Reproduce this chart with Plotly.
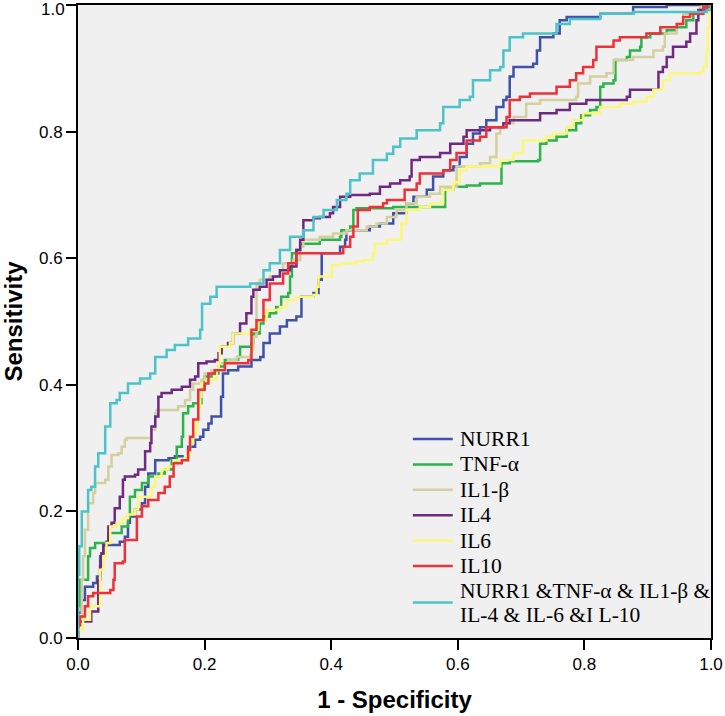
import plotly.graph_objects as go

# ---- data (1 - specificity, sensitivity) ----
nurr1_fpr = [0, 0, 0.006, 0.011, 0.024, 0.03, 0.035, 0.04, 0.056, 0.066, 0.074, 0.079, 0.082, 0.09, 0.101, 0.106, 0.111, 0.122, 0.143, 0.153, 0.174, 0.185, 0.193, 0.198, 0.206, 0.211, 0.224, 0.226, 0.229, 0.237, 0.253, 0.274, 0.288, 0.293, 0.303, 0.319, 0.33, 0.345, 0.353, 0.372, 0.38, 0.385, 0.403, 0.414, 0.422, 0.424, 0.461, 0.477, 0.498, 0.519, 0.53, 0.551, 0.561, 0.577, 0.593, 0.603, 0.614, 0.624, 0.635, 0.645, 0.661, 0.672, 0.677, 0.682, 0.688, 0.719, 0.725, 0.73, 0.751, 0.761, 0.772, 0.825, 0.877, 0.93, 1.0]
nurr1_tpr = [0, 0.04, 0.06, 0.081, 0.087, 0.097, 0.129, 0.147, 0.147, 0.152, 0.16, 0.182, 0.192, 0.203, 0.213, 0.239, 0.26, 0.281, 0.284, 0.287, 0.302, 0.313, 0.318, 0.329, 0.339, 0.35, 0.35, 0.381, 0.418, 0.423, 0.429, 0.439, 0.444, 0.466, 0.481, 0.492, 0.502, 0.508, 0.539, 0.545, 0.566, 0.608, 0.608, 0.618, 0.629, 0.644, 0.65, 0.655, 0.671, 0.687, 0.697, 0.708, 0.729, 0.739, 0.745, 0.76, 0.781, 0.797, 0.807, 0.818, 0.839, 0.85, 0.855, 0.887, 0.902, 0.907, 0.928, 0.949, 0.955, 0.976, 0.981, 0.986, 0.997, 1.0, 1.0]

tnf_fpr = [0, 0, 0.003, 0.016, 0.019, 0.027, 0.045, 0.048, 0.06, 0.069, 0.079, 0.082, 0.09, 0.101, 0.111, 0.127, 0.137, 0.148, 0.156, 0.164, 0.166, 0.174, 0.182, 0.195, 0.2, 0.211, 0.222, 0.232, 0.253, 0.256, 0.274, 0.277, 0.287, 0.293, 0.303, 0.313, 0.321, 0.332, 0.335, 0.338, 0.345, 0.351, 0.369, 0.382, 0.414, 0.416, 0.43, 0.435, 0.44, 0.482, 0.498, 0.572, 0.58, 0.593, 0.614, 0.635, 0.667, 0.669, 0.682, 0.727, 0.73, 0.74, 0.756, 0.766, 0.772, 0.787, 0.795, 0.809, 0.819, 0.825, 0.83, 0.846, 0.849, 0.867, 0.872, 0.888, 0.89, 0.904, 0.93, 0.946, 0.961, 0.972, 0.983, 1.0]
tnf_tpr = [0, 0.05, 0.092, 0.129, 0.142, 0.15, 0.15, 0.166, 0.166, 0.176, 0.192, 0.223, 0.234, 0.245, 0.255, 0.26, 0.266, 0.281, 0.302, 0.318, 0.355, 0.366, 0.371, 0.392, 0.413, 0.418, 0.429, 0.439, 0.444, 0.46, 0.466, 0.481, 0.497, 0.508, 0.513, 0.523, 0.539, 0.545, 0.571, 0.608, 0.613, 0.623, 0.623, 0.629, 0.634, 0.644, 0.65, 0.676, 0.679, 0.679, 0.681, 0.681, 0.708, 0.713, 0.715, 0.718, 0.718, 0.75, 0.753, 0.755, 0.781, 0.786, 0.792, 0.792, 0.802, 0.813, 0.826, 0.834, 0.839, 0.871, 0.876, 0.881, 0.913, 0.918, 0.928, 0.934, 0.949, 0.955, 0.96, 0.965, 0.976, 0.986, 0.997, 1.0]

il1b_fpr = [0, 0, 0.006, 0.008, 0.011, 0.016, 0.024, 0.027, 0.043, 0.048, 0.053, 0.064, 0.069, 0.074, 0.077, 0.111, 0.116, 0.122, 0.124, 0.143, 0.158, 0.169, 0.177, 0.182, 0.195, 0.2, 0.211, 0.222, 0.237, 0.251, 0.272, 0.274, 0.277, 0.282, 0.287, 0.303, 0.319, 0.324, 0.34, 0.351, 0.356, 0.382, 0.403, 0.424, 0.456, 0.472, 0.488, 0.503, 0.519, 0.535, 0.556, 0.572, 0.598, 0.635, 0.651, 0.661, 0.667, 0.677, 0.688, 0.708, 0.73, 0.787, 0.79, 0.809, 0.835, 0.846, 0.877, 0.909, 0.924, 0.927, 0.946, 0.956, 0.983, 1.0]
il1b_tpr = [0, 0.02, 0.092, 0.129, 0.171, 0.213, 0.229, 0.245, 0.25, 0.271, 0.289, 0.292, 0.302, 0.313, 0.316, 0.316, 0.329, 0.355, 0.36, 0.36, 0.366, 0.376, 0.392, 0.402, 0.408, 0.418, 0.423, 0.434, 0.439, 0.444, 0.447, 0.455, 0.476, 0.56, 0.566, 0.571, 0.581, 0.592, 0.597, 0.618, 0.629, 0.634, 0.639, 0.644, 0.65, 0.655, 0.665, 0.676, 0.687, 0.697, 0.702, 0.713, 0.745, 0.75, 0.76, 0.797, 0.807, 0.813, 0.823, 0.844, 0.85, 0.855, 0.876, 0.887, 0.892, 0.913, 0.918, 0.928, 0.934, 0.955, 0.97, 0.986, 0.997, 1.0]

il4_fpr = [0, 0, 0.019, 0.021, 0.03, 0.032, 0.035, 0.037, 0.04, 0.045, 0.048, 0.053, 0.058, 0.066, 0.071, 0.074, 0.09, 0.095, 0.103, 0.106, 0.114, 0.116, 0.122, 0.127, 0.132, 0.148, 0.164, 0.177, 0.185, 0.19, 0.203, 0.216, 0.222, 0.227, 0.237, 0.245, 0.256, 0.266, 0.274, 0.277, 0.287, 0.298, 0.308, 0.319, 0.335, 0.345, 0.351, 0.356, 0.372, 0.382, 0.398, 0.403, 0.414, 0.43, 0.461, 0.477, 0.493, 0.509, 0.524, 0.527, 0.54, 0.572, 0.588, 0.609, 0.614, 0.651, 0.672, 0.682, 0.724, 0.73, 0.756, 0.777, 0.803, 0.867, 0.872, 0.914, 0.917, 0.924, 0.93, 0.94, 0.961, 0.967, 0.977, 0.98, 0.993, 1.0]
il4_tpr = [0, 0.026, 0.026, 0.042, 0.042, 0.092, 0.113, 0.134, 0.147, 0.152, 0.176, 0.182, 0.205, 0.223, 0.25, 0.255, 0.258, 0.266, 0.266, 0.295, 0.308, 0.334, 0.35, 0.381, 0.387, 0.392, 0.397, 0.408, 0.413, 0.434, 0.437, 0.439, 0.45, 0.46, 0.466, 0.481, 0.497, 0.513, 0.539, 0.55, 0.555, 0.566, 0.571, 0.581, 0.587, 0.613, 0.629, 0.66, 0.663, 0.665, 0.671, 0.681, 0.697, 0.7, 0.702, 0.713, 0.718, 0.723, 0.729, 0.755, 0.76, 0.766, 0.781, 0.792, 0.802, 0.807, 0.813, 0.818, 0.818, 0.829, 0.834, 0.844, 0.85, 0.855, 0.866, 0.866, 0.894, 0.902, 0.918, 0.934, 0.942, 0.955, 0.976, 0.992, 0.997, 1.0]

il6_fpr = [0, 0, 0.008, 0.019, 0.035, 0.04, 0.045, 0.051, 0.061, 0.071, 0.079, 0.09, 0.095, 0.103, 0.116, 0.122, 0.132, 0.143, 0.151, 0.169, 0.177, 0.182, 0.187, 0.19, 0.193, 0.195, 0.203, 0.216, 0.219, 0.222, 0.224, 0.24, 0.245, 0.272, 0.285, 0.298, 0.319, 0.33, 0.345, 0.372, 0.377, 0.38, 0.393, 0.401, 0.414, 0.44, 0.451, 0.466, 0.469, 0.488, 0.509, 0.511, 0.519, 0.54, 0.556, 0.577, 0.593, 0.603, 0.614, 0.667, 0.688, 0.703, 0.74, 0.751, 0.772, 0.782, 0.798, 0.825, 0.856, 0.877, 0.898, 0.909, 0.924, 0.935, 0.983, 0.988, 0.993, 0.995, 0.998, 1.0]
il6_tpr = [0, 0.013, 0.029, 0.05, 0.108, 0.129, 0.15, 0.176, 0.182, 0.189, 0.195, 0.203, 0.223, 0.223, 0.239, 0.255, 0.266, 0.271, 0.281, 0.287, 0.308, 0.323, 0.339, 0.36, 0.381, 0.402, 0.408, 0.408, 0.423, 0.434, 0.46, 0.466, 0.481, 0.487, 0.502, 0.518, 0.523, 0.534, 0.539, 0.542, 0.555, 0.571, 0.571, 0.589, 0.592, 0.595, 0.597, 0.608, 0.623, 0.629, 0.631, 0.655, 0.676, 0.681, 0.687, 0.708, 0.72, 0.739, 0.745, 0.755, 0.766, 0.786, 0.792, 0.797, 0.807, 0.818, 0.829, 0.839, 0.844, 0.847, 0.855, 0.866, 0.881, 0.892, 0.894, 0.902, 0.928, 0.965, 0.997, 1.0]

il10_fpr = [0, 0, 0.003, 0.011, 0.016, 0.024, 0.045, 0.051, 0.056, 0.058, 0.071, 0.074, 0.09, 0.093, 0.101, 0.111, 0.127, 0.137, 0.145, 0.151, 0.164, 0.174, 0.177, 0.182, 0.19, 0.2, 0.206, 0.216, 0.232, 0.253, 0.269, 0.274, 0.282, 0.293, 0.303, 0.324, 0.332, 0.345, 0.403, 0.419, 0.43, 0.435, 0.442, 0.461, 0.482, 0.488, 0.514, 0.516, 0.535, 0.54, 0.577, 0.588, 0.598, 0.614, 0.635, 0.645, 0.677, 0.682, 0.698, 0.714, 0.756, 0.777, 0.787, 0.798, 0.814, 0.819, 0.846, 0.856, 0.877, 0.898, 0.92, 0.946, 0.956, 0.967, 0.988, 1.0]
il10_tpr = [0, 0.02, 0.034, 0.05, 0.066, 0.071, 0.071, 0.076, 0.092, 0.118, 0.121, 0.155, 0.155, 0.192, 0.208, 0.218, 0.229, 0.239, 0.255, 0.276, 0.281, 0.297, 0.318, 0.345, 0.392, 0.402, 0.418, 0.423, 0.434, 0.434, 0.439, 0.487, 0.502, 0.534, 0.56, 0.576, 0.592, 0.608, 0.608, 0.618, 0.634, 0.65, 0.676, 0.681, 0.687, 0.692, 0.692, 0.708, 0.718, 0.734, 0.739, 0.755, 0.766, 0.786, 0.792, 0.807, 0.823, 0.85, 0.855, 0.86, 0.871, 0.881, 0.892, 0.902, 0.913, 0.934, 0.944, 0.949, 0.949, 0.955, 0.965, 0.97, 0.981, 0.986, 0.997, 1.0]

combo_fpr = [0, 0, 0.002, 0.006, 0.016, 0.021, 0.027, 0.032, 0.043, 0.051, 0.061, 0.066, 0.079, 0.098, 0.114, 0.122, 0.14, 0.153, 0.174, 0.193, 0.196, 0.209, 0.219, 0.256, 0.272, 0.293, 0.303, 0.319, 0.335, 0.356, 0.372, 0.388, 0.409, 0.424, 0.43, 0.445, 0.466, 0.488, 0.498, 0.509, 0.535, 0.572, 0.577, 0.603, 0.619, 0.624, 0.651, 0.667, 0.672, 0.682, 0.703, 0.735, 0.756, 0.777, 0.825, 0.877, 0.993, 1.0]
combo_tpr = [0, 0.1, 0.145, 0.2, 0.234, 0.239, 0.271, 0.292, 0.334, 0.371, 0.376, 0.387, 0.402, 0.41, 0.418, 0.444, 0.455, 0.463, 0.473, 0.487, 0.528, 0.539, 0.555, 0.555, 0.56, 0.581, 0.592, 0.613, 0.634, 0.644, 0.665, 0.676, 0.692, 0.702, 0.723, 0.734, 0.755, 0.765, 0.776, 0.789, 0.802, 0.813, 0.839, 0.85, 0.855, 0.881, 0.897, 0.902, 0.928, 0.949, 0.955, 0.955, 0.97, 0.978, 0.986, 0.989, 0.992, 1.0]

series_names = ["NURR1", "TNF-α", "IL1-β", "IL4", "IL6", "IL10",
                "NURR1 &TNF-α & IL1-β &<br>IL-4 & IL-6 &I L-10"]
series_colors = ["#3F51A8", "#2DB34A", "#D4CF9E", "#6E2A82", "#FAF77A", "#EE3138", "#4CC3C8"]
x_ticks = [0.0, 0.2, 0.4, 0.6, 0.8, 1.0]
tick_text = ["0.0", "0.2", "0.4", "0.6", "0.8", "1.0"]

series = [(nurr1_fpr, nurr1_tpr), (tnf_fpr, tnf_tpr), (il1b_fpr, il1b_tpr),
          (il4_fpr, il4_tpr), (il6_fpr, il6_tpr), (il10_fpr, il10_tpr),
          (combo_fpr, combo_tpr)]

W, H = 725, 716
ML, MR, MT, MB = 78, 14, 5, 78
plot_h = H - MT - MB
tick_font = dict(family="Liberation Sans, Arial", size=17, color="black")


def py_to_paper(py):
    return (H - MB - py) / plot_h


fig = go.Figure()
for (fx, ty), name, col in zip(series, series_names, series_colors):
    fig.add_trace(go.Scatter(x=fx, y=ty, mode="lines", name=name.replace("<br>", " "),
                             line=dict(color=col, width=2.5, shape="hv")))

# custom legend (line samples + labels) placed inside the plot, lower right
legend_rows = [439, 464.4, 489.8, 515.2, 540.6, 566, 602.5]
lx0, lx1, tx = 0.529, 0.592, 0.6
legend_font = dict(family="Liberation Serif, Times New Roman", size=21.5, color="black")
shapes = []
annotations = []
for name, col, ry in zip(series_names, series_colors, legend_rows):
    yy = py_to_paper(ry)
    shapes.append(dict(type="line", xref="paper", yref="paper", x0=lx0, x1=lx1,
                       y0=yy, y1=yy, line=dict(color=col, width=2.5)))
    parts = name.split("<br>")
    if len(parts) == 1:
        annotations.append(dict(xref="paper", yref="paper", x=tx, y=yy, text=parts[0],
                                showarrow=False, xanchor="left", yanchor="middle",
                                font=legend_font))
    else:
        for k, part in enumerate(parts):
            annotations.append(dict(xref="paper", yref="paper", x=tx,
                                    y=py_to_paper(ry - 12 + 24 * k), text=part,
                                    showarrow=False, xanchor="left", yanchor="middle",
                                    font=legend_font))

# top y tick label drawn slightly lower so it is not cut at the page edge
y_tick_text = tick_text[:-1] + [""]
annotations.append(dict(xref="paper", yref="y", x=0, y=x_ticks[-1], text=tick_text[-1],
                        showarrow=False, xanchor="right", yanchor="top",
                        xshift=-11, yshift=7, font=tick_font))

axis_common = dict(range=[0, 1], tickvals=x_ticks,
                   showgrid=False, zeroline=False, showline=True,
                   linecolor="black", linewidth=2, mirror=True,
                   ticks="outside", ticklen=10, tickwidth=2, tickcolor="black",
                   ticklabeloverflow="allow", tickfont=tick_font)

fig.update_layout(
    width=W, height=H,
    margin=dict(l=ML, r=MR, t=MT, b=MB, autoexpand=False),
    paper_bgcolor="white", plot_bgcolor="#F0F0F0",
    xaxis=dict(**axis_common, ticktext=tick_text,
               title=dict(text="<b>1 - Specificity</b>", standoff=18,
                          font=dict(family="Liberation Sans, Arial", size=24, color="black"))),
    yaxis=dict(**axis_common, ticktext=y_tick_text,
               title=dict(text="<b>Sensitivity</b>", standoff=12,
                          font=dict(family="Liberation Sans, Arial", size=24, color="black"))),
    showlegend=False,
    shapes=shapes,
    annotations=annotations,
)

fig.write_html("out.html", config={"displayModeBar": False},
               post_script="document.body.style.margin='0';document.body.style.padding='0';")
